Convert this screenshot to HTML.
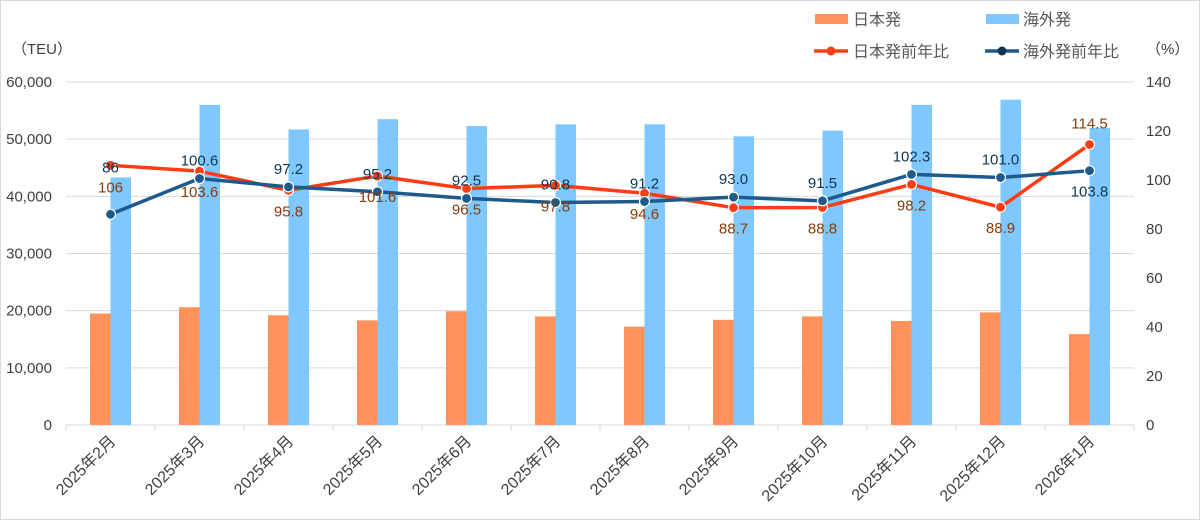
<!DOCTYPE html>
<html><head><meta charset="utf-8"><style>
html,body{margin:0;padding:0;background:#fff}
svg{display:block;font-family:"Liberation Sans","Noto Sans CJK JP",sans-serif}
</style></head><body>
<svg id="c" width="1200" height="520" viewBox="0 0 1200 520" xmlns="http://www.w3.org/2000/svg">
<rect x="0.5" y="0.5" width="1199" height="519" fill="#fff" stroke="#d9d9d9"/>
</svg>
<script>
const s=document.getElementById('c');let h='';
const L=66,W=89,B=425,T=82;
const jp=[19500,20600,19200,18300,19900,19000,17200,18400,19000,18200,19700,15900];
const ov=[43300,56000,51700,53500,52300,52600,52600,50500,51500,56000,56900,51950];
const jr=[106,103.6,95.8,101.6,96.5,97.8,94.6,88.7,88.8,98.2,88.9,114.5];
const orr=[86,100.6,97.2,95.2,92.5,90.8,91.2,93.0,91.5,102.3,101.0,103.8];
const jrl=['106','103.6','95.8','101.6','96.5','97.8','94.6','88.7','88.8','98.2','88.9','114.5'];
const orl=['86','100.6','97.2','95.2','92.5','90.8','91.2','93.0','91.5','102.3','101.0','103.8'];
const lab=['2025年2月','2025年3月','2025年4月','2025年5月','2025年6月','2025年7月','2025年8月','2025年9月','2025年10月','2025年11月','2025年12月','2026年1月'];
const yl=v=>B-v*(B-T)/60000, yr=v=>B-v*(B-T)/140;
for(let i=0;i<=6;i++){const y=B-i*(B-T)/6;
 h+=`<line x1="${L}" x2="${L+12*W}" y1="${y}" y2="${y}" stroke="#d9d9d9" stroke-width="1"/>`;
 h+=`<text x="52" y="${y+5}" text-anchor="end" font-size="15" fill="#404040">${i==0?'0':(i*10)+',000'}</text>`;}
for(let i=0;i<=7;i++){const y=B-i*(B-T)/7;
 h+=`<text x="1146" y="${y+5}" font-size="15" fill="#404040">${i*20}</text>`;}
for(let i=0;i<=12;i++)h+=`<line x1="${L+i*W}" x2="${L+i*W}" y1="${B}" y2="${B+6}" stroke="#d9d9d9"/>`;
for(let i=0;i<12;i++){const c=L+W*i+W/2;
 h+=`<rect x="${c-20.5}" y="${yl(jp[i])}" width="20.5" height="${B-yl(jp[i])}" fill="#ff915a"/>`;
 h+=`<rect x="${c}" y="${yl(ov[i])}" width="20.5" height="${B-yl(ov[i])}" fill="#7ec8ff"/>`;
 h+=`<text transform="translate(${c+6},${442}) rotate(-45)" text-anchor="end" font-size="16" fill="#404040">${lab[i]}</text>`;}
const line=(d,col)=>{let p=d.map((v,i)=>`${L+W*i+W/2},${yr(v)}`).join(' ');
 let r=`<polyline points="${p}" fill="none" stroke="${col}" stroke-width="3.5" stroke-linejoin="round"/>`;
 d.forEach((v,i)=>r+=`<circle cx="${L+W*i+W/2}" cy="${yr(v)}" r="5" fill="${col}" stroke="#fff" stroke-width="1.2"/>`);return r;};
h+=line(jr,'#ff3c14');h+=line(orr,'#1f5a8c');
for(let i=0;i<12;i++){const c=L+W*i+W/2;
 let ry=yr(jr[i])+(i==11?-16:26), oy=yr(orr[i])+(i==11?26:-13);
 if(i==0){ry=yr(jr[i])+27;oy=yr(orr[i])-42;}
 h+=`<text x="${c}" y="${ry}" text-anchor="middle" font-size="15" fill="#843c0c">${jrl[i]}</text>`;
 h+=`<text x="${c}" y="${oy}" text-anchor="middle" font-size="15" fill="#0e3652">${orl[i]}</text>`;}
h+=`<text x="12" y="54" font-size="15" fill="#404040">（TEU）</text>`;
h+=`<text x="1146" y="54" font-size="15" fill="#404040">（%）</text>`;
h+=`<rect x="815" y="14" width="33" height="10" fill="#ff915a"/><text x="853" y="25" font-size="16" fill="#595959">日本発</text>`;
h+=`<rect x="986" y="14" width="33" height="10" fill="#7ec8ff"/><text x="1023" y="25" font-size="16" fill="#595959">海外発</text>`;
h+=`<line x1="814" x2="848" y1="51" y2="51" stroke="#ff3c14" stroke-width="3.5"/><circle cx="831" cy="51" r="4.5" fill="#ff3c14"/><text x="853" y="57" font-size="16" fill="#595959">日本発前年比</text>`;
h+=`<line x1="985" x2="1019" y1="51" y2="51" stroke="#1f5a8c" stroke-width="3.5"/><circle cx="1002" cy="51" r="4.5" fill="#0e3652"/><text x="1023" y="57" font-size="16" fill="#595959">海外発前年比</text>`;
s.innerHTML+=h;
</script>
</body></html>
